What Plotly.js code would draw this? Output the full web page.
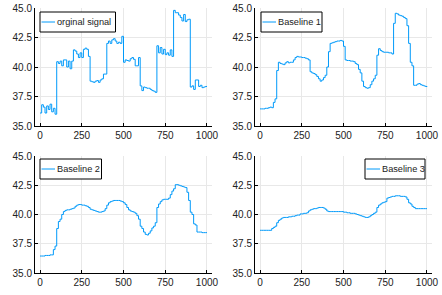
<!DOCTYPE html>
<html>
<head>
<meta charset="utf-8">
<script src="https://cdn.plot.ly/plotly-3.0.1.min.js"></script>
<style>html,body{margin:0;padding:0;background:#fff;}#chart{width:442px;height:295px;}</style>
</head>
<body>
<div id="chart"></div>
<script>
// sample positions: 0,10,...,1000
const sampleStep = 10;
const xTickVals = [0, 250, 500, 750, 1000];
const xTickText = ["0", "250", "500", "750", "1000"];
const yTickVals = [35, 37.5, 40, 42.5, 45];
const yTickText = ["35.0", "37.5", "40.0", "42.5", "45.0"];
const seriesNames = ["orginal signal", "Baseline 1", "Baseline 2", "Baseline 3"];

const originalSignal = [
  36.1, 36.8, 36.6, 36.1, 36.7, 36.4, 36.85, 36.2, 36.5, 36.0,
  40.45, 40.3, 40.5, 40.1, 40.6, 40.6, 40.0, 40.5, 39.85, 40.5,
  41.45, 41.35, 41.1, 40.8, 41.2, 40.8, 41.5, 41.6, 41.5, 40.9,
  38.8, 38.75, 38.7, 38.8, 38.85, 38.7, 38.9, 39.0, 39.4, 39.4,
  42.0, 42.2, 42.0, 42.3, 42.4, 42.2, 42.0, 42.1, 42.0, 42.6,
  40.4, 40.6, 40.55, 40.5, 40.7, 40.8, 40.65, 40.1, 40.1, 40.8,
  38.4, 38.0, 38.3, 38.25, 38.2, 38.2, 38.1, 38.0, 37.95, 37.85,
  41.8, 41.2, 41.65, 41.1, 41.5, 41.05, 41.2, 41.0, 41.45, 40.9,
  44.8, 44.6, 44.6, 44.4, 44.2, 43.9, 44.45, 43.85, 44.0, 44.05,
  38.3, 38.4, 38.1, 38.9, 38.9, 38.35, 38.45, 38.25, 38.3, 38.35,
  38.35
];
const baseline1 = [
  36.45, 36.45, 36.45, 36.5, 36.5, 36.55, 36.6, 36.55, 37.0, 37.3,
  39.7, 40.4, 40.3, 40.25, 40.2, 40.35, 40.45, 40.35, 40.4, 40.4,
  40.6, 40.8, 40.9, 40.85, 40.85, 40.8, 40.8, 40.75, 40.7, 40.6,
  39.6, 39.5, 39.45, 39.35, 39.2, 39.0, 38.8, 38.9, 39.1, 39.3,
  40.0, 41.3, 42.0, 42.05, 42.1, 42.15, 42.2, 42.2, 42.25, 42.2,
  41.75, 40.6, 40.55, 40.55, 40.5, 40.5, 40.45, 40.3, 40.2, 39.8,
  39.5, 38.8, 38.35, 38.25, 38.2, 38.25, 38.5, 38.8, 39.0, 39.3,
  41.0, 41.55, 41.4, 41.3, 41.25, 41.25, 41.25, 41.2, 41.2, 41.1,
  43.7, 44.55, 44.5, 44.4, 44.35, 44.3, 44.2, 44.1, 43.5, 42.0,
  40.4, 40.1, 38.45, 38.45, 38.55, 38.6, 38.5, 38.45, 38.4, 38.35,
  38.3
];
const baseline2 = [
  36.45, 36.45, 36.45, 36.5, 36.5, 36.5, 36.55, 36.55, 37.0, 37.3,
  38.8, 39.4, 39.6, 40.0, 40.25, 40.35, 40.4, 40.4, 40.45, 40.5,
  40.55, 40.7, 40.8, 40.85, 40.85, 40.8, 40.8, 40.75, 40.7, 40.6,
  40.45, 40.4, 40.35, 40.3, 40.25, 40.2, 40.2, 40.25, 40.3, 40.5,
  40.8, 41.0, 41.1, 41.15, 41.2, 41.2, 41.2, 41.2, 41.15, 41.1,
  41.0, 40.85, 40.6, 40.4, 40.3, 40.25, 40.2, 40.1, 39.9, 39.6,
  39.0, 38.8, 38.5, 38.3, 38.25, 38.4, 38.6, 38.85, 39.0, 39.3,
  40.6, 40.9, 41.1, 41.25, 41.3, 41.3, 41.3, 41.4, 41.7, 42.0,
  42.2, 42.55, 42.55, 42.5, 42.45, 42.4, 42.35, 42.3, 41.9, 41.2,
  40.2, 40.0, 39.2, 39.1, 38.5, 38.5, 38.5, 38.45, 38.45, 38.45,
  38.45
];
const baseline3 = [
  38.65, 38.65, 38.65, 38.65, 38.65, 38.65, 38.65, 38.8, 38.9, 39.0,
  39.3, 39.5, 39.6, 39.7, 39.75, 39.75, 39.75, 39.8, 39.8, 39.85,
  39.85, 39.9, 39.95, 39.95, 40.05, 40.05, 40.1, 40.1, 40.15, 40.3,
  40.4, 40.45, 40.5, 40.5, 40.55, 40.6, 40.6, 40.6, 40.55, 40.45,
  40.3, 40.25, 40.25, 40.25, 40.25, 40.25, 40.25, 40.25, 40.25, 40.25,
  40.2, 40.2, 40.15, 40.15, 40.1, 40.1, 40.1, 40.05, 40.0, 39.95,
  39.9, 39.85, 39.8, 39.75, 39.75, 39.8, 39.9, 40.0, 40.1, 40.2,
  40.6, 40.8, 40.9, 41.0, 41.05, 41.1, 41.4, 41.45, 41.5, 41.55,
  41.55, 41.6, 41.6, 41.6, 41.55, 41.55, 41.55, 41.5, 41.3, 41.0,
  40.9, 40.7, 40.6, 40.5, 40.5, 40.5, 40.5, 40.5, 40.5, 40.5,
  40.5
];

const xs = originalSignal.map((_, i) => i * sampleStep);
const allSeries = [originalSignal, baseline1, baseline2, baseline3];
const lineColor = "#009AFA";
const W = 442, H = 295;
const font = {family: "Liberation Sans, Arial, sans-serif", size: 10, color: "#222"};
const legendFont = {family: "Liberation Sans, Arial, sans-serif", size: 9.2, color: "#222"};

const traces = allSeries.map((ys, i) => ({
  type: "scatter", mode: "lines", x: xs, y: ys,
  name: seriesNames[i], line: {color: lineColor, width: 1, shape: "hv"},
  xaxis: i === 0 ? "x" : "x" + (i + 1),
  yaxis: i === 0 ? "y" : "y" + (i + 1),
  showlegend: false
}));

const xDomains = [[35/W, 212/W], [255/W, 432/W], [35/W, 212/W], [255/W, 432/W]];
const yDomains = [[169/H, 287/H], [169/H, 287/H], [22/H, 139/H], [22/H, 139/H]];

function xAxis(i) {
  return {
    domain: xDomains[i], range: [-30, 1030], anchor: i === 0 ? "y" : "y" + (i + 1),
    tickvals: xTickVals, ticktext: xTickText, showgrid: true, gridcolor: "#e8e8e8", gridwidth: 1,
    zeroline: false, showline: true, linecolor: "#000", linewidth: 1, mirror: false,
    ticks: "inside", ticklen: 3, tickcolor: "#000", tickfont: font, fixedrange: true
  };
}
function yAxis(i) {
  return {
    domain: yDomains[i], range: [35, 45], anchor: i === 0 ? "x" : "x" + (i + 1),
    tickvals: yTickVals, ticktext: yTickText, showgrid: true, gridcolor: "#e8e8e8", gridwidth: 1,
    zeroline: false, showline: true, linecolor: "#000", linewidth: 1, mirror: false,
    ticks: "inside", ticklen: 3, tickcolor: "#000", tickfont: font, fixedrange: true
  };
}

// legend boxes (pixel geometry of each subplot's legend frame)
const legendBoxes = [
  {x0: 40, x1: 115.5, y0: 12, y1: 32},
  {x0: 261, x1: 322, y0: 12, y1: 32},
  {x0: 40, x1: 101.5, y0: 159, y1: 179},
  {x0: 365, x1: 425, y0: 159, y1: 179}
];
const shapes = [], annotations = [];
legendBoxes.forEach((b, i) => {
  const ym = (b.y0 + b.y1) / 2;
  shapes.push({type: "rect", xref: "paper", yref: "paper", layer: "above",
    x0: b.x0 / W, x1: b.x1 / W, y0: 1 - b.y1 / H, y1: 1 - b.y0 / H,
    fillcolor: "#fff", line: {color: "#000", width: 1}});
  shapes.push({type: "line", xref: "paper", yref: "paper", layer: "above",
    x0: (b.x0 + 1.5) / W, x1: (b.x0 + 15) / W, y0: 1 - ym / H, y1: 1 - ym / H,
    line: {color: lineColor, width: 1}});
  annotations.push({xref: "paper", yref: "paper", x: (b.x0 + 15.5) / W, y: 1 - ym / H,
    xanchor: "left", yanchor: "middle", showarrow: false, text: seriesNames[i],
    font: legendFont, borderpad: 0});
});

const layout = {
  width: W, height: H,
  margin: {l: 0, r: 0, t: 0, b: 0},
  paper_bgcolor: "#fff", plot_bgcolor: "#fff",
  font: font, showlegend: false,
  shapes: shapes, annotations: annotations
};
for (let i = 0; i < 4; i++) {
  layout[i === 0 ? "xaxis" : "xaxis" + (i + 1)] = xAxis(i);
  layout[i === 0 ? "yaxis" : "yaxis" + (i + 1)] = yAxis(i);
}

Plotly.newPlot("chart", traces, layout, {displayModeBar: false, staticPlot: true});
</script>
</body>
</html>
